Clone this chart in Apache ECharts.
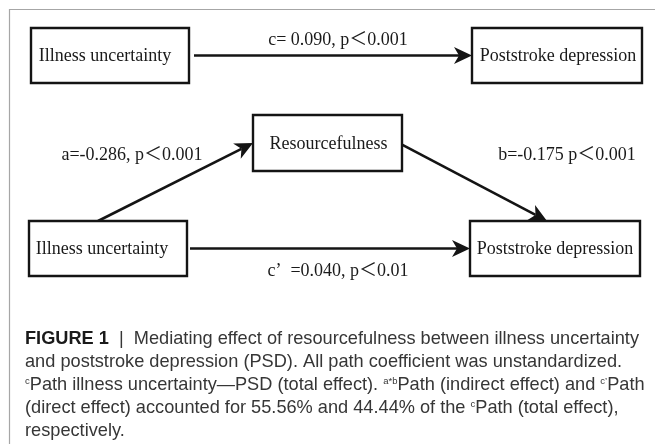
<!DOCTYPE html>
<html><head><meta charset="utf-8">
<script src="https://cdn.jsdelivr.net/npm/echarts@6/dist/echarts.min.js"></script>
<style>html,body{margin:0;padding:0;background:#fff}#c{width:655px;height:444px}</style>
</head><body><div id="c"></div>
<script>
// ---- data ----
const nodeNames = ['Illness uncertainty', 'Poststroke depression', 'Resourcefulness', 'Illness uncertainty', 'Poststroke depression'];
const edgeFrom = [0, 3, 2, 3];
const edgeTo = [1, 2, 4, 4];
const edgeLabels = ['c= 0.090, p\uFF1C0.001', 'a=-0.286, p\uFF1C0.001', 'b=-0.175 p\uFF1C0.001', 'c\u2019  =0.040, p\uFF1C0.01'];
const captionLines = [
  '{b|FIGURE 1}{n|  |  Mediating effect of resourcefulness between illness uncertainty}',
  '{n|and poststroke depression (PSD). All path coefficient was unstandardized.}',
  '{s|c}{n|Path illness uncertainty\u2014PSD (total effect). }{s|a*b}{n|Path (indirect effect) and }{s|c\u2019}{n|Path}',
  '{n|(direct effect) accounted for 55.56% and 44.44% of the }{s|c}{n|Path (total effect),}',
  '{n|respectively.}'
];

// ---- layout (pixels of the 655x444 canvas) ----
const boxLayout = [
  { x: 31, y: 28, w: 158, h: 55, dx: -5 },
  { x: 472, y: 28, w: 170, h: 55, dx: 1 },
  { x: 253, y: 115, w: 149, h: 56, dx: 1 },
  { x: 29, y: 221, w: 158, h: 55, dx: -6 },
  { x: 470, y: 221, w: 170, h: 55, dx: 0 }
];
const edgeLayout = [
  { fs: 'right', ff: 0.5, fg: 5, ts: 'left', tf: 0.5, label: [338, 40] },
  { fs: 'top', ff: 0.437, fg: 0, ts: 'left', tf: 0.5, label: [132, 155] },
  { fs: 'right', ff: 0.53, fg: 0, ts: 'top', tf: 0.453, label: [567, 155] },
  { fs: 'right', ff: 0.5, fg: 3, ts: 'left', tf: 0.5, label: [338, 271] }
];
const SERIF = "'Liberation Serif', 'Noto Sans CJK SC', serif";
const SANS = "'Liberation Sans', sans-serif";
const INK = '#141414';
const CAP = 18.2, CAP_LH = 23;

function anchor(b, side, frac, gap) {
  gap = gap || 0;
  if (side === 'left') return [b.x - gap, b.y + b.h * frac];
  if (side === 'right') return [b.x + b.w + gap, b.y + b.h * frac];
  if (side === 'top') return [b.x + b.w * frac, b.y - gap];
  return [b.x + b.w * frac, b.y + b.h + gap];
}

const edgeData = edgeFrom.map((f, i) => {
  const L = edgeLayout[i];
  const a = anchor(boxLayout[f], L.fs, L.ff, L.fg);
  const b = anchor(boxLayout[edgeTo[i]], L.ts, L.tf, 0);
  return [a[0], a[1], b[0], b[1]];
});
const boxData = nodeNames.map((n, i) => {
  const b = boxLayout[i];
  return [b.x, b.y, b.x + b.w, b.y + b.h, i];
});
const labelData = edgeLabels.map((t, i) => [edgeLayout[i].label[0], edgeLayout[i].label[1], i]);

const chart = echarts.init(document.getElementById('c'));
chart.setOption({
  animation: false,
  grid: { left: 0, right: 0, top: 0, bottom: 0 },
  xAxis: { type: 'value', min: 0, max: 655, show: false },
  yAxis: { type: 'value', min: 0, max: 444, inverse: true, show: false },
  graphic: [
    { type: 'polyline', shape: { points: [[9.5, 444], [9.5, 9.5], [655, 9.5]] },
      style: { stroke: '#a6a6a6', lineWidth: 1.2, fill: null } },
    { type: 'text', left: 25, top: 327,
      style: {
        text: captionLines.join('\n'),
        font: CAP + 'px ' + SANS,
        fill: '#363636',
        lineHeight: CAP_LH,
        rich: {
          b: { fontFamily: SANS, fontWeight: 'bold', fontSize: CAP, fill: '#1a1a1a', lineHeight: CAP_LH },
          n: { fontFamily: SANS, fontSize: CAP, fill: '#363636', lineHeight: CAP_LH },
          s: { fontFamily: SANS, fontSize: 9.5, fill: '#363636', lineHeight: CAP_LH, verticalAlign: 'top', padding: [3, 0, 0, 0] }
        }
      } }
  ],
  series: [
    {
      type: 'custom', coordinateSystem: 'cartesian2d', data: edgeData, z: 2,
      renderItem: function (params, api) {
        const p1 = api.coord([api.value(0), api.value(1)]);
        const p2 = api.coord([api.value(2), api.value(3)]);
        const dx = p2[0] - p1[0], dy = p2[1] - p1[1];
        const len = Math.hypot(dx, dy), ux = dx / len, uy = dy / len, nx = -uy, ny = ux;
        const AL = 18, AW = 17, notch = 0.72 * AL;
        const back = [p2[0] - ux * AL, p2[1] - uy * AL];
        const nk = [p2[0] - ux * notch, p2[1] - uy * notch];
        return {
          type: 'group',
          children: [
            { type: 'line', shape: { x1: p1[0], y1: p1[1], x2: nk[0], y2: nk[1] },
              style: { stroke: INK, lineWidth: 2.6 } },
            { type: 'polygon', shape: { points: [p2, [back[0] + nx * AW / 2, back[1] + ny * AW / 2], nk, [back[0] - nx * AW / 2, back[1] - ny * AW / 2]] },
              style: { fill: INK } }
          ]
        };
      }
    },
    {
      type: 'custom', coordinateSystem: 'cartesian2d', data: boxData, z: 3,
      renderItem: function (params, api) {
        const p1 = api.coord([api.value(0), api.value(1)]);
        const p2 = api.coord([api.value(2), api.value(3)]);
        const i = api.value(4);
        return {
          type: 'group',
          children: [
            { type: 'rect', shape: { x: p1[0], y: p1[1], width: p2[0] - p1[0], height: p2[1] - p1[1] },
              style: { fill: '#fff', stroke: INK, lineWidth: 2.4 } },
            { type: 'text', x: (p1[0] + p2[0]) / 2 + boxLayout[i].dx, y: (p1[1] + p2[1]) / 2 + 1,
              style: { text: nodeNames[i], font: '18px ' + SERIF, fill: '#1a1a1a', align: 'center', verticalAlign: 'middle' } }
          ]
        };
      }
    },
    {
      type: 'custom', coordinateSystem: 'cartesian2d', data: labelData, z: 4,
      renderItem: function (params, api) {
        const p = api.coord([api.value(0), api.value(1)]);
        return { type: 'text', x: p[0], y: p[1],
          style: { text: edgeLabels[api.value(2)], font: '18px ' + SERIF, fill: '#1a1a1a', align: 'center', verticalAlign: 'middle' } };
      }
    }
  ]
});
</script>
</body></html>
